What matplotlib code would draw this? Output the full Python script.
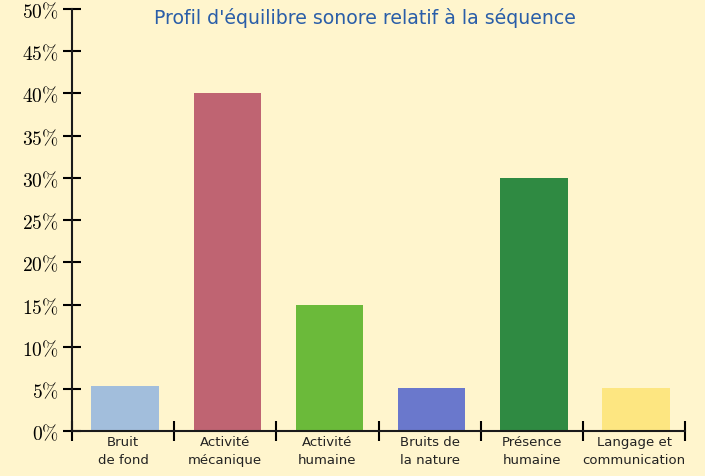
import matplotlib
matplotlib.use("Agg")
from matplotlib import pyplot as plt

categories = ["Bruit\nde fond", "Activité\nmécanique", "Activité\nhumaine",
              "Bruits de\nla nature", "Présence\nhumaine", "Langage et\ncommunication"]
values = [5.3, 40, 15, 5.1, 30, 5.1]
colors = ["#a2bedc", "#bf6472", "#6bba3a", "#6a78cc", "#2f8a42", "#fde681"]
yticks = [0, 5, 10, 15, 20, 25, 30, 35, 40, 45, 50]

plt.rcParams["mathtext.fontset"] = "cm"
bg = "#fff5cd"
fig = plt.figure(figsize=(7.05, 4.77), dpi=100, facecolor=bg)
ax = fig.add_axes([0.102, 0.094, 0.87, 0.885], facecolor=bg)

pos = [i + 0.5 for i in range(len(categories))]
ax.bar([p + 0.02 for p in pos], values, width=0.66, color=colors, zorder=2)

ax.set_xlim(0, 6)
ax.set_ylim(0, 50)
for s in ["top", "right"]:
    ax.spines[s].set_visible(False)
for s in ["left", "bottom"]:
    ax.spines[s].set_linewidth(1.5)
    ax.spines[s].set_color("#1a1a1a")

ax.set_yticks(yticks)
ax.set_yticklabels([f"${v}\\%$" for v in yticks], fontsize=14)
ax.set_xticks(range(7))
ax.set_xticklabels([])
ax.set_xticks(pos, minor=True)
ax.set_xticklabels(categories, minor=True, family="DejaVu Sans", fontsize=9.5,
                   linespacing=1.45, color="#222222")
ax.tick_params(axis="x", which="minor", length=0, pad=3)
ax.tick_params(axis="x", which="major", direction="inout", length=14, width=1.5)
ax.tick_params(axis="y", direction="inout", length=13, width=1.5, pad=3)

fig.text(0.518, 0.962, "Profil d'équilibre sonore relatif à la séquence",
         ha="center", va="center", color="#2a5ea8", fontsize=13.6, family="DejaVu Sans")

fig.savefig("out.png", dpi=100, facecolor=bg)
